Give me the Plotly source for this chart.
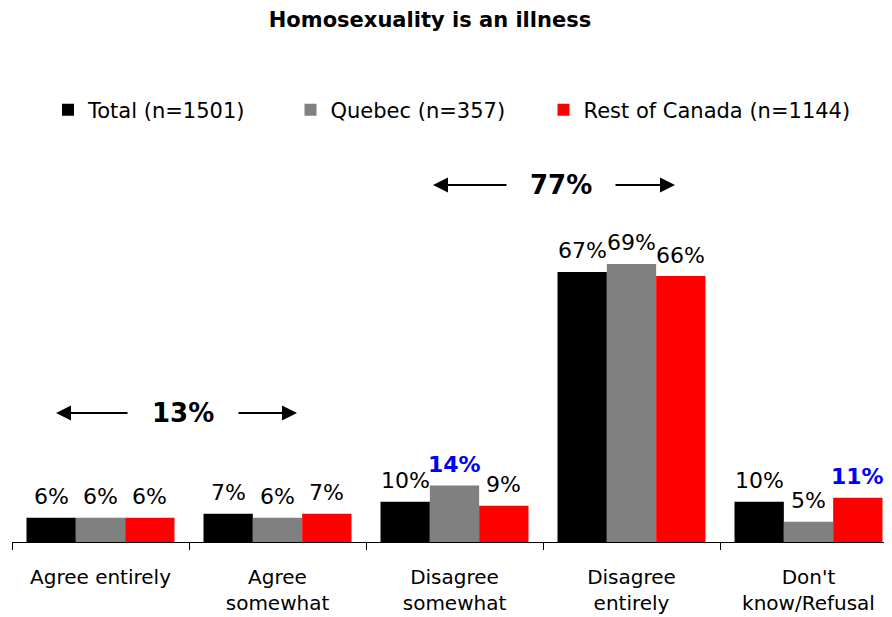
import plotly.graph_objects as go

categories = ["Agree entirely", "Agree<br>somewhat", "Disagree<br>somewhat", "Disagree<br>entirely", "Don't<br>know/Refusal"]
series_names = ["Total (n=1501)", "Quebec (n=357)", "Rest of Canada (n=1144)"]
total = [6, 7, 10, 67, 10]
quebec = [6, 6, 14, 69, 5]
rest = [6, 7, 9, 66, 11]
# highlighted (significantly different) labels
total_hi = [False, False, False, False, False]
quebec_hi = [False, False, True, False, False]
rest_hi = [False, False, False, False, True]
colors = ["#000000", "#808080", "#FF0000"]
legend_pad = [6, 5, 0]  # extra spacing after legend entries

FONT = "DejaVu Sans"
BARGAP = 0.164
CAT_PX = 177.0

# page offset (body margin) compensation
OFF = 8
W, H = 892 - OFF, 617 - OFF
L, T, B = 4, 131, 75
PW, PH = W - L, H - T - B


def px_x(p):
    return (p - OFF - L) / PW


def px_y(p):
    return (H - B - (p - OFF)) / PH


fig = go.Figure()
series = [total, quebec, rest]
his = [total_hi, quebec_hi, rest_hi]
for name, vals, col, pad in zip(series_names, series, colors, legend_pad):
    fig.add_trace(go.Bar(
        x=categories, y=vals, name=name + "\u00a0" * pad,
        marker=dict(color=col, line=dict(width=0)),
        hoverinfo="x+y",
    ))

ann = []
nser = len(series)
bw = (1 - BARGAP) / nser
for si, (vals, hi) in enumerate(zip(series, his)):
    for ci, (v, h) in enumerate(zip(vals, hi)):
        ann.append(dict(
            x=ci + (si - (nser - 1) / 2) * bw, y=v, xref="x", yref="y",
            text=f"<b>{v}%</b>" if h else f"{v}%", showarrow=False,
            xanchor="center", yanchor="middle", yshift=21,
            font=dict(family=FONT, size=22, color="#0000FF" if h else "#000000"),
        ))

arrow_style = dict(showarrow=True, arrowhead=2, arrowsize=1.5, arrowwidth=2, arrowcolor="#000000",
                   xref="paper", yref="paper", text="", ay=0)
# 77% bracket
ann.append(dict(x=px_x(561), y=px_y(185), xref="paper", yref="paper", text="<b>77%</b>", showarrow=False,
                xanchor="center", yanchor="middle",
                font=dict(family=FONT, size=26, color="#000000")))
ann.append(dict(arrow_style, x=px_x(433), y=px_y(185), ax=75))
ann.append(dict(arrow_style, x=px_x(675), y=px_y(185), ax=-61))
# 13% bracket
ann.append(dict(x=px_x(183), y=px_y(413), xref="paper", yref="paper", text="<b>13%</b>", showarrow=False,
                xanchor="center", yanchor="middle",
                font=dict(family=FONT, size=26, color="#000000")))
ann.append(dict(arrow_style, x=px_x(56), y=px_y(413), ax=73))
ann.append(dict(arrow_style, x=px_x(297), y=px_y(413), ax=-60))

fig.update_layout(
    width=W, height=H,
    margin=dict(l=L, r=0, t=T, b=B, pad=0),
    paper_bgcolor="#FFFFFF", plot_bgcolor="#FFFFFF",
    barmode="group", bargap=BARGAP, bargroupgap=0,
    title=dict(text="<b>Homosexuality is an illness</b>", x=(430 - OFF) / W, xref="container", xanchor="center",
               y=1 - (20 - OFF) / H, yref="container", yanchor="middle",
               font=dict(family=FONT, size=21, color="#000000")),
    legend=dict(orientation="h", x=px_x(48), xanchor="left", y=px_y(110), yanchor="middle",
                font=dict(family=FONT, size=21, color="#000000"), itemwidth=30,
                bgcolor="rgba(0,0,0,0)", traceorder="normal"),
    font=dict(family=FONT, color="#000000"),
    annotations=ann,
    showlegend=True,
)
fig.update_xaxes(range=[-0.5, -0.5 + PW / CAT_PX],
                 showline=True, linecolor="#000000", linewidth=1, ticks="outside", tickson="boundaries",
                 ticklen=7, tickcolor="#000000", tickwidth=1, showgrid=False, zeroline=False,
                 tickfont=dict(family=FONT, size=20, color="#000000"), ticklabelstandoff=17,
                 automargin=False)
fig.update_yaxes(range=[0, 100], visible=False, showgrid=False, zeroline=False)

fig.write_html("out.html")
